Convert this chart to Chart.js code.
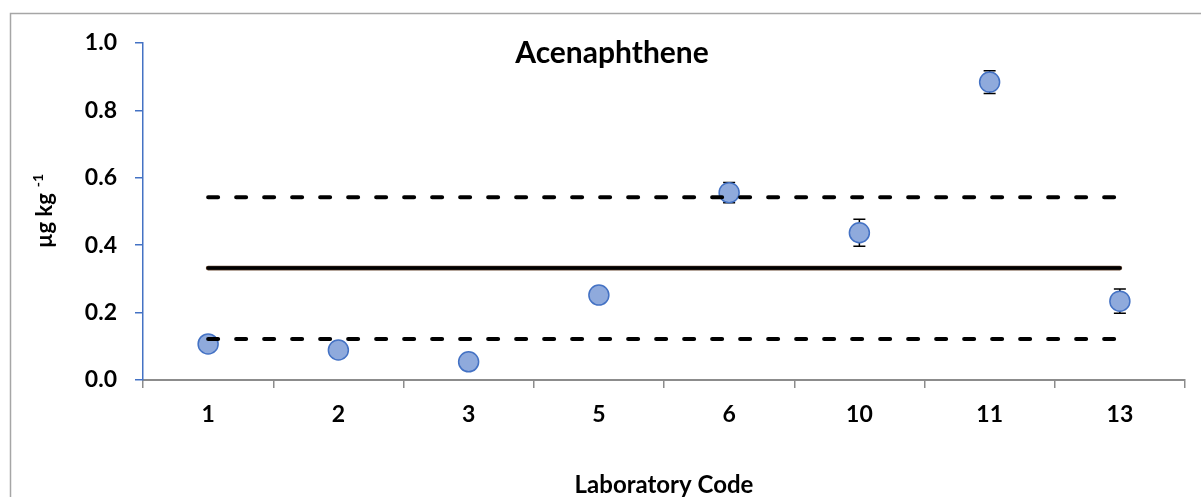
<!DOCTYPE html>
<html>
<head>
<meta charset="utf-8">
<script src="https://cdn.jsdelivr.net/npm/chart.js@4.4.1/dist/chart.umd.min.js"></script>
<style>
  html, body { margin: 0; padding: 0; background: #fff; }
  canvas { display: block; }
</style>
</head>
<body>
<canvas id="c" width="1201" height="497"></canvas>
<script>
// lab codes on the x axis
const labCodes = ["1", "2", "3", "5", "6", "10", "11", "13"];
// reported results, µg kg-1
const results = [0.107, 0.089, 0.054, 0.252, 0.556, 0.437, 0.884, 0.234];
// +/- uncertainty per lab (0 = no bar visible)
const uncertainty = [0, 0, 0, 0, 0.03, 0.04, 0.034, 0.036];
// assigned value and the acceptance limits
const assignedValue = 0.332;
const upperLimit = 0.542;
const lowerLimit = 0.122;
const yTicks = [0, 0.2, 0.4, 0.6, 0.8, 1.0];

const FONT = "Lato";
const blue = "#4472C4", axisGrey = "#8c8c8c";

// excel-ish error bars, drawn under the markers
const errorBars = {
  id: "errorBars",
  beforeDatasetsDraw(chart) {
    const { ctx, scales: { x, y } } = chart;
    ctx.save();
    ctx.strokeStyle = "#000";
    ctx.lineWidth = 1.5;
    results.forEach((v, i) => {
      const e = uncertainty[i];
      if (!e) return;
      const px = x.getPixelForValue(i);
      const top = y.getPixelForValue(v + e), bot = y.getPixelForValue(v - e);
      ctx.beginPath();
      ctx.moveTo(px, top); ctx.lineTo(px, bot);
      ctx.moveTo(px - 6, top); ctx.lineTo(px + 6, top);
      ctx.moveTo(px - 6, bot); ctx.lineTo(px + 6, bot);
      ctx.stroke();
    });
    ctx.restore();
  },
};

// frame, chart title, rotated y title with superscript
const decor = {
  id: "decor",
  beforeDraw(chart) {
    const ctx = chart.ctx;
    ctx.save();
    ctx.strokeStyle = "#a6a6a6";
    ctx.lineWidth = 1.5;
    ctx.strokeRect(10.5, 13.5, 1400, 700);
    ctx.restore();
  },
  afterDraw(chart) {
    const ctx = chart.ctx;
    ctx.save();
    ctx.fillStyle = "#000";
    ctx.font = `bold 30px ${FONT}`;
    ctx.textAlign = "center";
    ctx.textBaseline = "alphabetic";
    ctx.fillText("Acenaphthene", 612, 63);

    ctx.translate(52, 248);
    ctx.rotate(-Math.PI / 2);
    ctx.textAlign = "left";
    ctx.font = `bold 22px ${FONT}`;
    ctx.fillText("µg kg", 0, 0);
    const w = ctx.measureText("µg kg").width;
    ctx.font = `bold 14px ${FONT}`;
    ctx.fillText("-1", w + 6, -9);
    ctx.restore();
  },
};

function flat(v) { return labCodes.map(() => v); }

function draw() {
  new Chart(document.getElementById("c"), {
    type: "line",
    data: {
      labels: labCodes,
      datasets: [
        { data: flat(upperLimit), borderColor: "#000", borderWidth: 4, borderDash: [10, 18], borderCapStyle: "round", pointRadius: 0 },
        { data: flat(lowerLimit), borderColor: "#000", borderWidth: 4, borderDash: [10, 18], borderCapStyle: "round", pointRadius: 0 },
        { data: flat(assignedValue), borderColor: "#000", borderWidth: 3.5, borderCapStyle: "round", pointRadius: 0 },
        { data: flat(assignedValue), borderColor: "#6b4a35", borderWidth: 4.6, borderCapStyle: "round", pointRadius: 0 },
        {
          data: results, showLine: false,
          pointRadius: 10, pointBorderWidth: 1.5,
          pointBackgroundColor: "#8FAADC", pointBorderColor: blue,
        },
      ],
    },
    options: {
      responsive: false,
      animation: false,
      layout: { padding: { left: 10, top: 43, right: 16, bottom: 0 } },
      plugins: { legend: { display: false }, tooltip: { enabled: false } },
      scales: {
        x: {
          offset: true,
          grid: { offset: true, drawOnChartArea: false, tickLength: 8, color: axisGrey, lineWidth: 1.5 },
          border: { color: axisGrey, width: 2 },
          ticks: { color: "#000", padding: 13, font: { family: FONT, size: 23, weight: "bold" } },
          title: {
            display: true, text: "Laboratory Code", color: "#000",
            font: { family: FONT, size: 24, weight: "bold", lineHeight: 1 },
            padding: { top: 0, bottom: 0 },
          },
          afterFit(s) { s.height = 117; },
        },
        y: {
          min: 0, max: 1,
          afterBuildTicks(s) { s.ticks = yTicks.map((v) => ({ value: v })); },
          grid: { drawOnChartArea: false, tickLength: 8, color: blue, lineWidth: 1.5 },
          border: { color: blue, width: 1.5 },
          ticks: {
            color: "#000", padding: 18,
            font: { family: FONT, size: 23, weight: "bold" },
            callback: (v) => Number(v).toFixed(1),
          },
          afterFit(s) { s.width = 133; },
        },
      },
    },
    plugins: [errorBars, decor],
  });
}

document.fonts.load(`bold 22px ${FONT}`).then(draw, draw);
</script>
</body>
</html>
